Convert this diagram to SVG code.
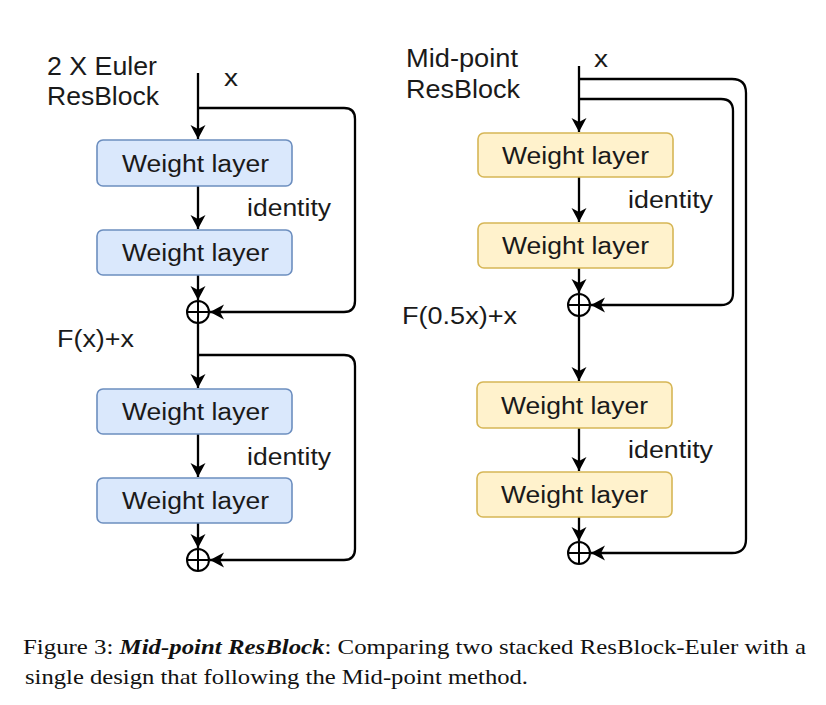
<svg xmlns="http://www.w3.org/2000/svg" width="826" height="705" viewBox="0 0 826 705">
<style>
.blue{fill:#dae8fc;stroke:#6c8ebf;stroke-width:1.6}
.yel{fill:#fff2cc;stroke:#d6b656;stroke-width:1.6}
.t{font-family:"Liberation Sans",Arial,sans-serif;font-size:23px;fill:#1a1a1a}
.h{font-family:"Liberation Sans",Arial,sans-serif;font-size:25px;fill:#1a1a1a}
.cap{font-family:"Liberation Serif","Times New Roman",serif;font-size:22px;fill:#111}
.ln{fill:none;stroke:#000;stroke-width:2.3}
.plus{fill:none;stroke:#000;stroke-width:2}
</style>
<defs>
<marker id="arr" viewBox="-16 -9 17 18" refX="0" refY="0" markerWidth="17" markerHeight="18" markerUnits="userSpaceOnUse" orient="auto">
<path d="M0,0 L-14,-7.5 L-10,0 L-14,7.5 Z" fill="#000"/>
</marker>
</defs>
<rect width="826" height="705" fill="#fff"/>

<g id="connectors">
<path class="ln" d="M198,73 V139" marker-end="url(#arr)"/>
<path class="ln" d="M198,186 V229" marker-end="url(#arr)"/>
<path class="ln" d="M198,275 V300" marker-end="url(#arr)"/>
<path class="ln" d="M198,108 H344 Q355,108 355,119 V301 Q355,312 344,312 H210" marker-end="url(#arr)"/>
<path class="ln" d="M198,323 V388" marker-end="url(#arr)"/>
<path class="ln" d="M198,434 V477" marker-end="url(#arr)"/>
<path class="ln" d="M198,523 V548" marker-end="url(#arr)"/>
<path class="ln" d="M198,355 H344 Q355,355 355,366 V549 Q355,560 344,560 H210" marker-end="url(#arr)"/>

<path class="ln" d="M579,66 V132" marker-end="url(#arr)"/>
<path class="ln" d="M579,177 V222" marker-end="url(#arr)"/>
<path class="ln" d="M579,268 V293" marker-end="url(#arr)"/>
<path class="ln" d="M579,99 H721 Q733,99 733,111 V293 Q733,305 721,305 H591" marker-end="url(#arr)"/>
<path class="ln" d="M579,79 H732 Q746,79 746,93 V539 Q746,553 732,553 H591" marker-end="url(#arr)"/>
<path class="ln" d="M579,316 V381" marker-end="url(#arr)"/>
<path class="ln" d="M579,428 V471" marker-end="url(#arr)"/>
<path class="ln" d="M579,517 V541" marker-end="url(#arr)"/>
</g>

<g id="sum-l1"><circle class="plus" cx="198" cy="312" r="11"/><path class="plus" d="M187,312 H209 M198,301 V323"/></g>
<g id="sum-l2"><circle class="plus" cx="198" cy="560" r="11"/><path class="plus" d="M187,560 H209 M198,549 V571"/></g>
<g id="sum-r1"><circle class="plus" cx="579" cy="305" r="11"/><path class="plus" d="M568,305 H590 M579,294 V316"/></g>
<g id="sum-r2"><circle class="plus" cx="579" cy="553" r="11"/><path class="plus" d="M568,553 H590 M579,542 V564"/></g>

<g id="l-box1"><rect class="blue" x="97" y="140" width="195" height="46" rx="6"/><text class="t" x="122" y="171.5" textLength="147" lengthAdjust="spacingAndGlyphs">Weight layer</text></g>
<g id="l-box2"><rect class="blue" x="97" y="230" width="195" height="45" rx="6"/><text class="t" x="122" y="261" textLength="147" lengthAdjust="spacingAndGlyphs">Weight layer</text></g>
<g id="l-box3"><rect class="blue" x="97" y="389" width="195" height="45" rx="6"/><text class="t" x="122" y="420" textLength="147" lengthAdjust="spacingAndGlyphs">Weight layer</text></g>
<g id="l-box4"><rect class="blue" x="97" y="478" width="195" height="45" rx="6"/><text class="t" x="122" y="509" textLength="147" lengthAdjust="spacingAndGlyphs">Weight layer</text></g>

<g id="r-box1"><rect class="yel" x="478" y="133" width="195" height="44" rx="6"/><text class="t" x="502" y="163.5" textLength="147" lengthAdjust="spacingAndGlyphs">Weight layer</text></g>
<g id="r-box2"><rect class="yel" x="478" y="223" width="195" height="45" rx="6"/><text class="t" x="502" y="254" textLength="147" lengthAdjust="spacingAndGlyphs">Weight layer</text></g>
<g id="r-box3"><rect class="yel" x="477" y="382" width="195" height="46" rx="6"/><text class="t" x="501" y="413.5" textLength="147" lengthAdjust="spacingAndGlyphs">Weight layer</text></g>
<g id="r-box4"><rect class="yel" x="477" y="472" width="195" height="45" rx="6"/><text class="t" x="501" y="503" textLength="147" lengthAdjust="spacingAndGlyphs">Weight layer</text></g>

<g id="labels">
<text class="h" x="47" y="75" textLength="110" lengthAdjust="spacingAndGlyphs">2 X Euler</text>
<text class="h" x="47" y="105" textLength="112" lengthAdjust="spacingAndGlyphs">ResBlock</text>
<text class="t" x="224" y="86" textLength="14" lengthAdjust="spacingAndGlyphs">x</text>
<text class="t" x="247" y="216" textLength="84" lengthAdjust="spacingAndGlyphs">identity</text>
<text class="t" x="57" y="347" textLength="77" lengthAdjust="spacingAndGlyphs">F(x)+x</text>
<text class="t" x="247" y="465" textLength="84" lengthAdjust="spacingAndGlyphs">identity</text>

<text class="h" x="406" y="67" textLength="112" lengthAdjust="spacingAndGlyphs">Mid-point</text>
<text class="h" x="406" y="98" textLength="114" lengthAdjust="spacingAndGlyphs">ResBlock</text>
<text class="t" x="594" y="67" textLength="14" lengthAdjust="spacingAndGlyphs">x</text>
<text class="t" x="628" y="208" textLength="85" lengthAdjust="spacingAndGlyphs">identity</text>
<text class="t" x="402" y="324" textLength="115" lengthAdjust="spacingAndGlyphs">F(0.5x)+x</text>
<text class="t" x="628" y="458" textLength="85" lengthAdjust="spacingAndGlyphs">identity</text>
</g>

<g id="caption">
<text class="cap" x="23" y="654" textLength="783" lengthAdjust="spacingAndGlyphs">Figure 3: <tspan font-weight="bold" font-style="italic">Mid-point ResBlock</tspan>: Comparing two stacked ResBlock-Euler with a</text>
<text class="cap" x="25" y="684" textLength="503" lengthAdjust="spacingAndGlyphs">single design that following the Mid-point method.</text>
</g>
</svg>
